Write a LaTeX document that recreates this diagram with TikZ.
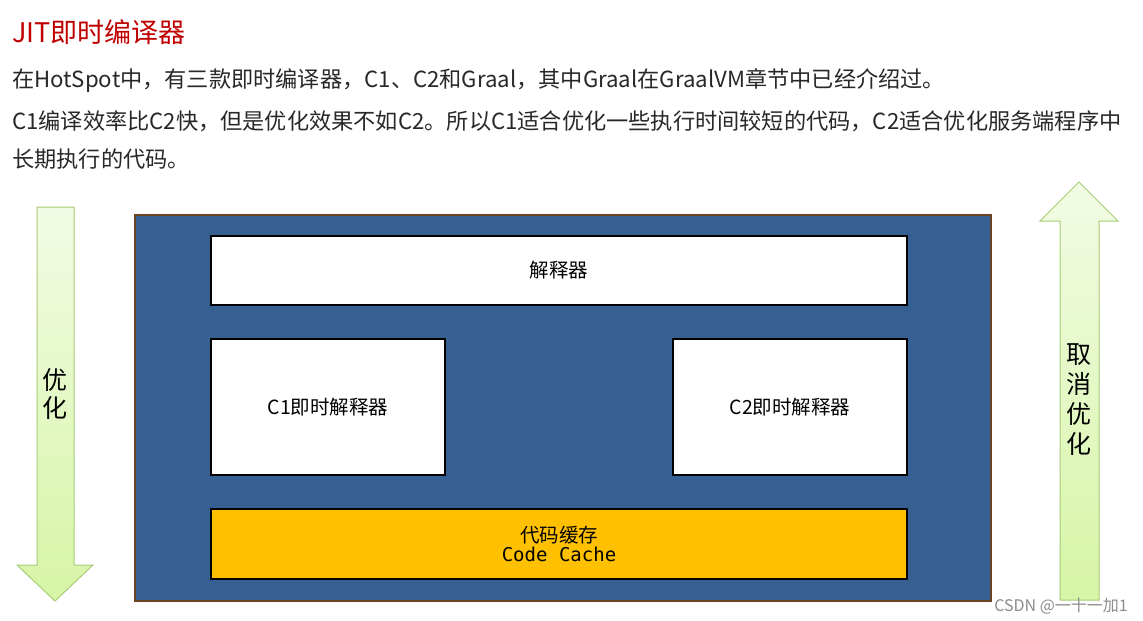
\documentclass[tikz,border=0pt]{standalone}
\usepackage{fontspec}
\setmainfont{Noto Sans CJK SC}
\newfontfamily\cjk{Noto Sans CJK SC}
\newfontfamily\monof{DejaVu Sans Mono}
\definecolor{titlered}{RGB}{192,0,0}
\definecolor{bodytext}{RGB}{40,40,40}
\definecolor{mainblue}{RGB}{54,96,146}
\definecolor{mainbrown}{RGB}{107,68,35}
\definecolor{cacheyellow}{RGB}{255,192,0}
\definecolor{arrowtop}{RGB}{242,251,228}
\definecolor{arrowbot}{RGB}{214,245,166}
\definecolor{arrowline}{RGB}{168,204,120}
\tikzset{
  innerbox/.style={draw=black, line width=2pt, fill=white},
  bodyline/.style={anchor=base west, inner sep=0pt, font=\cjk\fontsize{22.2}{26}\selectfont, text=bodytext},
  boxlabel/.style={font=\cjk\fontsize{19.5}{23}\selectfont, text=black},
  arrowshape/.style={draw=arrowline, line width=1pt, top color=arrowtop, bottom color=arrowbot},
  arrowlabel/.style={font=\cjk\fontsize{25}{30}\selectfont, text=black, align=center},
}
\begin{document}
\begin{tikzpicture}[x=1pt,y=-1pt]
\useasboundingbox (0,0) rectangle (1143,621);
\fill[white] (0,0) rectangle (1143,621);
% title and text
\node[anchor=base west, inner sep=0pt, font=\cjk\fontsize{27}{30}\selectfont, text=titlered] (title) at (12,42) {JIT即时编译器};
\node[bodyline] (l1) at (12,87) {在HotSpot中，有三款即时编译器，C1、C2和Graal，其中Graal在GraalVM章节中已经介绍过。};
\node[bodyline] (l2) at (12,129) {C1编译效率比C2快，但是优化效果不如C2。所以C1适合优化一些执行时间较短的代码，C2适合优化服务端程序中};
\node[bodyline] (l3) at (12,167) {长期执行的代码。};
% left arrow
\path[arrowshape] (37,207) -- (74,207) -- (74,565) -- (93,565) -- (55,601) -- (17,565) -- (37,565) -- cycle;
\node[arrowlabel] (opt) at (55,394) {优\\[-2pt]化};
% right arrow
\path[arrowshape] (1060,600) -- (1060,221) -- (1040,221) -- (1079,182) -- (1118,221) -- (1099,221) -- (1099,600) -- cycle;
\node[arrowlabel] (deopt) at (1079,400) {取\\[0pt]消\\[0pt]优\\[0pt]化};
% main box
\node[draw=mainbrown, line width=2pt, fill=mainblue, minimum width=856pt, minimum height=386pt, inner sep=0pt] (main) at (563,408) {};
\node[innerbox, minimum width=696pt, minimum height=69pt, inner sep=0pt, boxlabel] (interp) at (559,270.5) {解释器};
\node[innerbox, minimum width=234pt, minimum height=136pt, inner sep=0pt, boxlabel] (c1) at (328,407) {C1即时解释器};
\node[innerbox, minimum width=234pt, minimum height=136pt, inner sep=0pt, boxlabel] (c2) at (790,407) {C2即时解释器};
\node[draw=black, line width=2pt, fill=cacheyellow, minimum width=696pt, minimum height=70pt, inner sep=0pt, align=center, boxlabel] (cache) at (559,544) {代码缓存\\[-4pt]{\monof\fontsize{19}{22}\selectfont Code Cache}};
% watermark
\node[anchor=base east, inner sep=0pt, font=\cjk\fontsize{16}{18}\selectfont, text=black!45] (wm) at (1128,611) {CSDN @一十一加1};
\end{tikzpicture}
\end{document}
